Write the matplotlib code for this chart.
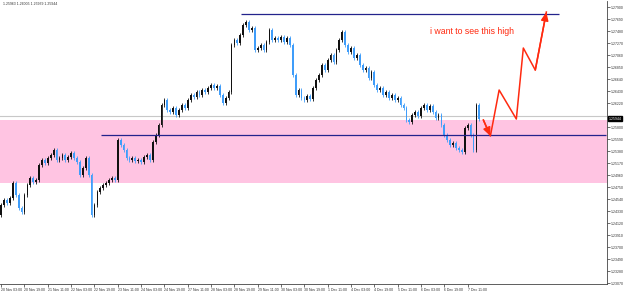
import matplotlib
matplotlib.use("Agg")
import matplotlib.pyplot as plt

# H2 closes (open = previous close)
first_open = 1.24261
closes = [
    1.24436, 1.24523, 1.24471, 1.24558, 1.24821, 1.24611, 1.24383, 1.24313, 1.24611, 1.24786,
    1.24908, 1.24838, 1.24873, 1.25136, 1.25223, 1.25171, 1.25258, 1.25311, 1.25398, 1.25223,
    1.25258, 1.25311, 1.25223, 1.25276, 1.25346, 1.25258, 1.25188, 1.24961, 1.25083, 1.25258,
    1.24961, 1.24261, 1.24436, 1.24663, 1.24733, 1.24786, 1.24821, 1.24873, 1.24908, 1.24873,
    1.25573, 1.25486, 1.25398, 1.25258, 1.25223, 1.25258, 1.25206, 1.25223, 1.25188, 1.25276,
    1.25311, 1.25223, 1.25538, 1.25661, 1.25836, 1.26186, 1.26273, 1.26098, 1.26063, 1.26133,
    1.26011, 1.26098, 1.26186, 1.26133, 1.26273, 1.26361, 1.26326, 1.26413, 1.26361, 1.26448,
    1.26413, 1.26483, 1.26536, 1.26483, 1.26518, 1.26361, 1.26221, 1.26308, 1.26413, 1.27236,
    1.27323, 1.27271, 1.27411, 1.27586, 1.27638, 1.27498, 1.27533, 1.27148, 1.27183, 1.27236,
    1.27148, 1.27288, 1.27498, 1.27323, 1.27358, 1.27323, 1.27376, 1.27288, 1.27358, 1.27236,
    1.26711, 1.26361, 1.26448, 1.26308, 1.26273, 1.26343, 1.26291, 1.26483, 1.26623, 1.26711,
    1.26886, 1.26798, 1.26973, 1.27061, 1.26938, 1.27148, 1.27323, 1.27463, 1.27236, 1.27113,
    1.27183, 1.27008, 1.27061, 1.26886, 1.26798, 1.26833, 1.26658, 1.26763, 1.26536, 1.26448,
    1.26483, 1.26361, 1.26413, 1.26308, 1.26361, 1.26273, 1.26308, 1.26186, 1.26133, 1.25923,
    1.25888, 1.26011, 1.26063, 1.25993, 1.26133, 1.26186, 1.26098, 1.26168, 1.26063, 1.25958,
    1.26011, 1.25836, 1.25661, 1.25573, 1.25486, 1.25521, 1.25433, 1.25398, 1.25363, 1.25783,
    1.25836, 1.25661, 1.25398, 1.26186, 1.25944,
]

y_ticks = [1.27900, 1.27690, 1.27480, 1.27270, 1.27060, 1.26850, 1.26640, 1.26430, 1.26220,
           1.25800, 1.25590, 1.25380, 1.25170, 1.24960, 1.24750, 1.24540, 1.24330, 1.24120,
           1.23910, 1.23700, 1.23490, 1.23280, 1.23070]
x_labels = ["20 Nov 03:00", "20 Nov 19:00", "21 Nov 11:00", "22 Nov 03:00", "22 Nov 19:00",
            "23 Nov 11:00", "24 Nov 03:00", "24 Nov 19:00", "27 Nov 11:00", "28 Nov 03:00",
            "28 Nov 19:00", "29 Nov 11:00", "30 Nov 03:00", "30 Nov 19:00", "1 Dec 11:00",
            "4 Dec 03:00", "4 Dec 19:00", "5 Dec 11:00", "6 Dec 03:00", "6 Dec 19:00",
            "7 Dec 11:00"]
x_label_step = 8  # bars between labels (16 hours)

header = "1.25963 1.26005 1.25939 1.25944"
last_price = 1.25944

# zone + levels drawn by hand on the chart
zone_low, zone_high = 1.24821, 1.25923
level_mid = 1.25661
level_mid_from = 34.3
level_top = 1.27778
level_top_span = (82.3, 191.4)

# red projection path (bar index, price)
path_x = [165.4, 167.8, 170.8, 176.7, 179.1, 183.2, 187.0]
path_y = [1.25923, 1.25643, 1.26448, 1.25940, 1.27183, 1.26798, 1.27813]
note = "i want to see this high"

up_col = "#111111"
dn_col = "#3f9dfa"
pad = 0.0004
small = 2.5

fig = plt.figure(figsize=(6.25, 2.91), dpi=100)
ax = fig.add_axes([0, 7 / 291, 607 / 625, 283 / 291])

ax.axhspan(zone_low, zone_high, color="#ffc4e2", lw=0, zorder=0)
ax.axhline(last_price + 0.0005, color="#c8c8c8", lw=0.8, zorder=1)

opens = [first_open] + closes[:-1]
for i, (o, c) in enumerate(zip(opens, closes)):
    col = up_col if c >= o else dn_col
    lo, hi = min(o, c), max(o, c)
    ax.vlines(i, lo - pad, hi + pad, color=col, lw=0.6, zorder=2)
    ax.bar(i, max(hi - lo, 0.00005), bottom=lo, width=0.6, color=col, lw=0, zorder=3)

ax.hlines(level_mid, level_mid_from, 207.5, color="#23238c", lw=0.9, zorder=4)
ax.hlines(level_top, level_top_span[0], level_top_span[1], color="#23238c", lw=0.9, zorder=4)

ax.plot(path_x, path_y, color="#ff2a10", lw=1.1, zorder=5)
for k in (1, len(path_x) - 1):
    ax.annotate("", xy=(path_x[k], path_y[k]), xytext=(path_x[k - 1], path_y[k - 1]),
                arrowprops=dict(arrowstyle="-|>,head_length=0.5,head_width=0.22",
                                color="#ff2a10", lw=1.1, shrinkA=0, shrinkB=0), zorder=5)
ax.text(147, 1.27470, note, color="#ff2a10", fontsize=6.3, family="Liberation Sans",
        va="center", ha="left")

ax.set_xlim(-0.4, 207.8)
ax.set_ylim(1.23053, 1.28006)

ax.yaxis.tick_right()
ax.set_yticks(y_ticks)
ax.set_yticklabels(["%.5f" % v for v in y_ticks])
ax.set_xticks(range(0, x_label_step * len(x_labels), x_label_step))
ax.set_xticklabels(x_labels, ha="left")
ax.tick_params(axis="both", labelsize=small, length=2, width=0.5, pad=0.8, colors="#333333")
for lab in ax.get_xticklabels() + ax.get_yticklabels():
    lab.set_family("Liberation Sans")

for s in ("top", "left"):
    ax.spines[s].set_visible(False)
for s in ("right", "bottom"):
    ax.spines[s].set_linewidth(0.6)
    ax.spines[s].set_color("#444444")

# current price box on the price scale
ax.text(1.003, last_price, "%.5f" % last_price, transform=ax.get_yaxis_transform(),
        fontsize=small, family="Liberation Sans", color="white", va="center", ha="left",
        bbox=dict(boxstyle="square,pad=0.15", fc="black", ec="black"))

fig.text(0.005, 0.985, header, fontsize=small, family="Liberation Sans", color="#333333",
         va="center", ha="left")

fig.savefig("out.png", dpi=100, facecolor="white")
